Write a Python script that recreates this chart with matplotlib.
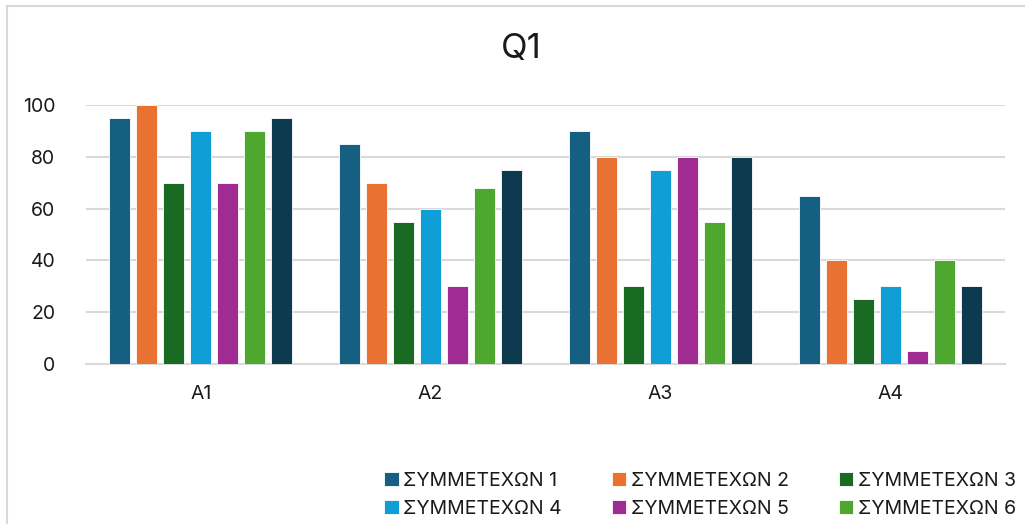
import numpy as np
import matplotlib.pyplot as plt
from matplotlib.patches import Rectangle

plt.rcParams['font.family'] = ['Inter', 'DejaVu Sans']

groups = ['A1', 'A2', 'A3', 'A4']
series_names = ['ΣΥΜΜΕΤΕΧΩΝ 1', 'ΣΥΜΜΕΤΕΧΩΝ 2', 'ΣΥΜΜΕΤΕΧΩΝ 3', 'ΣΥΜΜΕΤΕΧΩΝ 4',
                'ΣΥΜΜΕΤΕΧΩΝ 5', 'ΣΥΜΜΕΤΕΧΩΝ 6', 'ΣΥΜΜΕΤΕΧΩΝ 7']
s1 = [95, 85, 90, 65]
s2 = [100, 70, 80, 40]
s3 = [70, 55, 30, 25]
s4 = [90, 60, 75, 30]
s5 = [70, 30, 80, 5]
s6 = [90, 68, 55, 40]
s7 = [95, 75, 80, 30]
values = [s1, s2, s3, s4, s5, s6, s7]
colors = ['#156082', '#E97132', '#196B24', '#0F9ED5', '#A02B93', '#4EA72E', '#0D3A4E']

fig = plt.figure(figsize=(10.25, 5.24), dpi=100)
# chart frame (runs off the right and bottom edges)
fig.patches.append(Rectangle((7 / 1025, -0.2), 1.2, 1 - 6 / 524 + 0.2,
                             transform=fig.transFigure, fill=False,
                             edgecolor='#D9D9D9', linewidth=1.5))

ax = fig.add_axes([86 / 1025, 1 - 364 / 524, 919 / 1025, 259 / 524])

x = np.arange(len(groups))
step = 27 / 230
width = 21 / 230
handles = []
for i, (name, vals, c) in enumerate(zip(series_names, values, colors)):
    h = ax.bar(x + (i - 3) * step, vals, width, color=c, label=name,
               edgecolor='white', linewidth=0.6, zorder=3)
    handles.append(h)

ax.set_xlim(-0.5, 3.5)
ax.set_ylim(0, 100)
ax.set_yticks(range(0, 101, 20))
ax.set_xticks(x)
ax.set_xticklabels(groups)
ax.grid(axis='y', color='#D9D9D9', linewidth=1.5, zorder=0)
for side in ['top', 'right', 'left']:
    ax.spines[side].set_visible(False)
ax.spines['bottom'].set_color('#D9D9D9')
ax.spines['bottom'].set_linewidth(1.5)
ax.tick_params(axis='both', length=0, labelsize=14, colors='#1a1a1a')
ax.tick_params(axis='y', pad=22)
ax.tick_params(axis='x', pad=15)

fig.text(521 / 1025, 1 - 49 / 524, 'Q1', ha='center', va='center', fontsize=25, color='#1a1a1a')

# first two legend rows, row-major in 3 columns
order = [0, 3, 1, 4, 2, 5]
fig.legend([handles[k] for k in order], [series_names[k] for k in order],
           ncol=3, loc='upper left', bbox_to_anchor=(384 / 1025, 1 - 472 / 524),
           frameon=False, fontsize=14, handlelength=0.75, handleheight=0.75,
           handletextpad=0.25, columnspacing=2.55, labelspacing=0.5,
           borderaxespad=0, borderpad=0, labelcolor='#1a1a1a')

fig.savefig('out.png', dpi=100)
